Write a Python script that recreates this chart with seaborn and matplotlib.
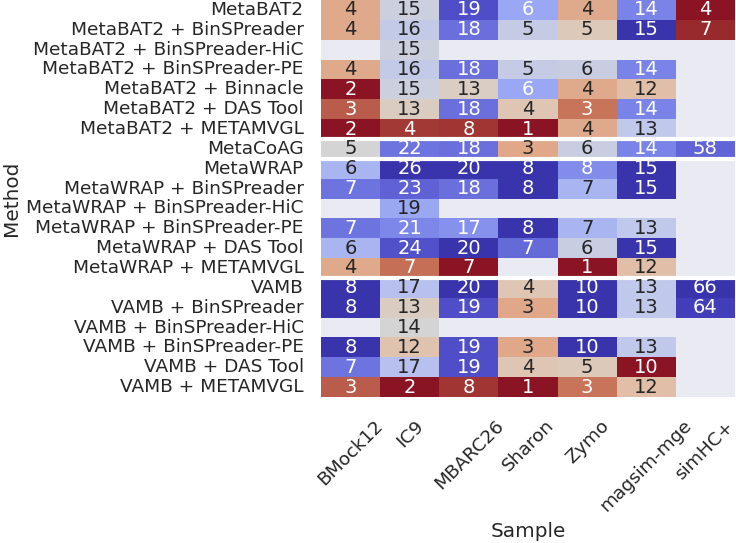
import numpy as np
import pandas as pd
import seaborn as sns
import matplotlib.pyplot as plt
from matplotlib.colors import LinearSegmentedColormap

nan = np.nan

methods = [
    "MetaBAT2",
    "MetaBAT2 + BinSPreader",
    "MetaBAT2 + BinSPreader-HiC",
    "MetaBAT2 + BinSPreader-PE",
    "MetaBAT2 + Binnacle",
    "MetaBAT2 + DAS Tool",
    "MetaBAT2 + METAMVGL",
    "MetaCoAG",
    "MetaWRAP",
    "MetaWRAP + BinSPreader",
    "MetaWRAP + BinSPreader-HiC",
    "MetaWRAP + BinSPreader-PE",
    "MetaWRAP + DAS Tool",
    "MetaWRAP + METAMVGL",
    "VAMB",
    "VAMB + BinSPreader",
    "VAMB + BinSPreader-HiC",
    "VAMB + BinSPreader-PE",
    "VAMB + DAS Tool",
    "VAMB + METAMVGL",
]
samples = ["BMock12", "IC9", "MBARC26", "Sharon", "Zymo", "magsim-mge", "simHC+"]

bmock12 = [4, 4, nan, 4, 2, 3, 2, 5, 6, 7, nan, 7, 6, 4, 8, 8, nan, 8, 7, 3]
ic9 = [15, 16, 15, 16, 15, 13, 4, 22, 26, 23, 19, 21, 24, 7, 17, 13, 14, 12, 17, 2]
mbarc26 = [19, 18, nan, 18, 13, 18, 8, 18, 20, 18, nan, 17, 20, 7, 20, 19, nan, 19, 19, 8]
sharon = [6, 5, nan, 5, 6, 4, 1, 3, 8, 8, nan, 8, 7, nan, 4, 3, nan, 3, 4, 1]
zymo = [4, 5, nan, 6, 4, 3, 4, 6, 8, 7, nan, 7, 6, 1, 10, 10, nan, 10, 5, 3]
magsim_mge = [14, 15, nan, 14, 12, 14, 13, 14, 15, 15, nan, 13, 15, 12, 13, 13, nan, 13, 10, 12]
simhc = [4, 7, nan, nan, nan, nan, nan, 58, nan, nan, nan, nan, nan, nan, 66, 64, nan, nan, nan, nan]

# group boundaries (row index where a white separator goes)
separators = [7, 8, 14]

df = pd.DataFrame(
    dict(zip(samples, [bmock12, ic9, mbarc26, sharon, zymo, magsim_mge, simhc])),
    index=methods,
)
df.index.name = "Method"
df.columns.name = "Sample"

# colour scaled per sample, labels show raw counts
normed = (df - df.min()) / (df.max() - df.min())

# darker red -> grey -> blue-violet ramp
cmap = LinearSegmentedColormap.from_list("redgreyblue", [
    (0.0, "#8a1424"), (0.09, "#a53c36"), (0.22, "#c8745a"), (0.27, "#e0a688"),
    (0.34, "#dfaa8c"), (0.42, "#e0c4b0"), (0.5, "#d4d4d4"), (0.6, "#c0c8ec"),
    (0.71, "#9aa8f4"), (0.8, "#7a84e8"), (0.88, "#5e60d4"), (0.94, "#4a48c4"),
    (1.0, "#3a34ac"),
])

sns.set_theme(style="darkgrid", font_scale=1.25)

fig = plt.figure(figsize=(7.36, 5.43), dpi=100)
ax = fig.add_axes([321 / 736, 1 - 397 / 543, 414 / 736, 397 / 543])

sns.heatmap(normed, annot=df, fmt=".0f", cmap=cmap, cbar=False,
            yticklabels=True, annot_kws={"size": 14}, ax=ax)
ax.grid(False)

for y in separators:
    ax.axhline(y, color="white", lw=3)

ax.tick_params(axis="y", labelsize=13.3, pad=6.5)
ax.tick_params(axis="x", labelsize=13.3, pad=8)
plt.setp(ax.get_xticklabels(), rotation=45)
ax.set_xlabel("Sample", fontsize=14.4, labelpad=5)
ax.set_ylabel("Method", fontsize=14.4)

fig.savefig("out.png", dpi=100)
